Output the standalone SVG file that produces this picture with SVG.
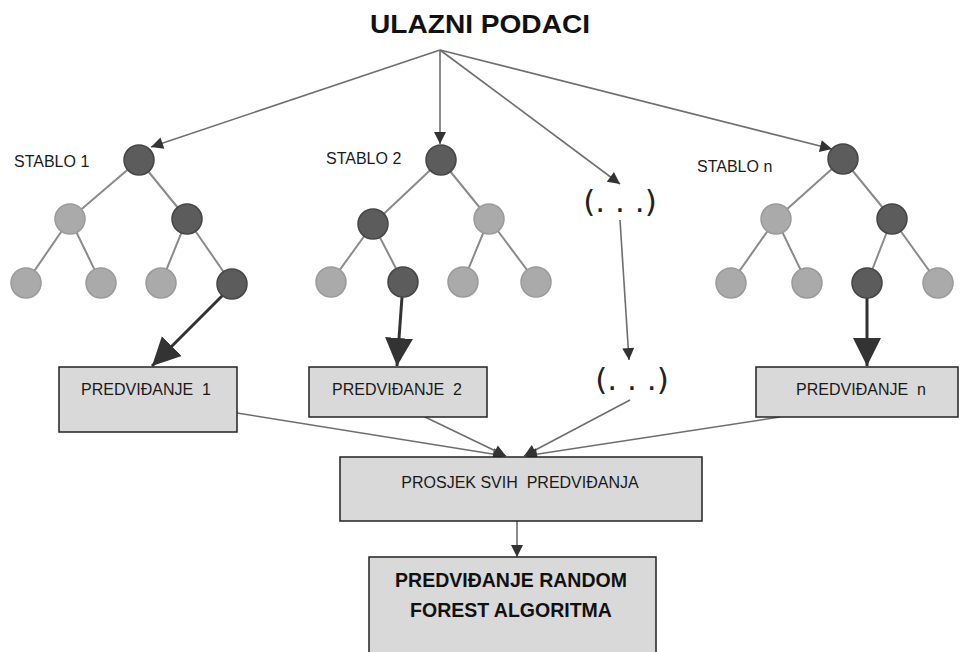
<svg xmlns="http://www.w3.org/2000/svg" width="961" height="652" viewBox="0 0 961 652">
<style>
.dk{fill:#5c5c5c;stroke:#454545;stroke-width:1.5}
.lt{fill:#aaaaaa;stroke:#9a9a9a;stroke-width:1.5}
.te{stroke:#8a8a8a;stroke-width:2;fill:none}
.cn{stroke:#6e6e6e;stroke-width:1.6;fill:none}
.tk{stroke:#333;stroke-width:3;fill:none}
.bx{fill:#d9d9d9;stroke:#222;stroke-width:1.5}
.t{font-family:"Liberation Sans",Arial,sans-serif;font-size:16px;fill:#1a1a1a}
.b{font-family:"Liberation Sans",Arial,sans-serif;font-weight:bold;fill:#111}
.d{font-family:"DejaVu Sans","Liberation Sans",sans-serif;font-size:31px;fill:#222}
</style>
<defs>
<marker id="a" viewBox="0 0 10 10" refX="10" refY="5" markerWidth="14" markerHeight="12" markerUnits="userSpaceOnUse" orient="auto"><path d="M0,0L10,5L0,10z" fill="#333"/></marker>
<marker id="big" viewBox="0 0 10 10" refX="10" refY="5" markerWidth="28" markerHeight="30" markerUnits="userSpaceOnUse" orient="auto"><path d="M0,0L10,5L0,10z" fill="#333"/></marker>
</defs>
<text class="b" x="480" y="33" font-size="25" text-anchor="middle" textLength="220" lengthAdjust="spacingAndGlyphs">ULAZNI PODACI</text>
<g id="connectors">
<line class="cn" x1="440" y1="50" x2="151" y2="147" marker-end="url(#a)"/>
<line class="cn" x1="440" y1="50" x2="440" y2="144" marker-end="url(#a)"/>
<line class="cn" x1="440" y1="50" x2="620" y2="184" marker-end="url(#a)"/>
<line class="cn" x1="440" y1="50" x2="832" y2="149" marker-end="url(#a)"/>
<line class="cn" x1="620" y1="220" x2="629" y2="360" marker-end="url(#a)"/>
<line class="tk" x1="226" y1="292" x2="152" y2="366" marker-end="url(#big)"/>
<line class="tk" x1="402" y1="297" x2="397" y2="366" marker-end="url(#big)"/>
<line class="tk" x1="867" y1="298" x2="867" y2="366" marker-end="url(#big)"/>
<line class="cn" x1="237" y1="413" x2="505" y2="456" marker-end="url(#a)"/>
<line class="cn" x1="425" y1="417" x2="506" y2="456" marker-end="url(#a)"/>
<line class="cn" x1="630" y1="400" x2="524" y2="456" marker-end="url(#a)"/>
<line class="cn" x1="780" y1="417" x2="525" y2="456" marker-end="url(#a)"/>
<line class="cn" x1="517" y1="521" x2="517" y2="557" marker-end="url(#a)"/>
</g>
<g id="tree1">
<path class="te" d="M139,160L70,219M139,160L187,219M70,219L26,283M70,219L101,283M187,219L161,283M187,219L232,284"/>
<circle class="dk" cx="139" cy="160" r="15"/>
<circle class="lt" cx="70" cy="219" r="15"/>
<circle class="dk" cx="187" cy="219" r="15"/>
<circle class="lt" cx="26" cy="283" r="15"/>
<circle class="lt" cx="101" cy="283" r="15"/>
<circle class="lt" cx="161" cy="283" r="15"/>
<circle class="dk" cx="232" cy="284" r="15"/>
<text class="t" x="14" y="167">STABLO 1</text>
</g>
<g id="tree2">
<path class="te" d="M441,160L373,224M441,160L489,219M373,224L331,282M373,224L403,282M489,219L463,282M489,219L536,282"/>
<circle class="dk" cx="441" cy="160" r="15"/>
<circle class="dk" cx="373" cy="224" r="15"/>
<circle class="lt" cx="489" cy="219" r="15"/>
<circle class="lt" cx="331" cy="282" r="15"/>
<circle class="dk" cx="403" cy="282" r="15"/>
<circle class="lt" cx="463" cy="282" r="15"/>
<circle class="lt" cx="536" cy="282" r="15"/>
<text class="t" x="326" y="164">STABLO 2</text>
</g>
<g id="treen">
<path class="te" d="M843,159L776,219M843,159L892,219M776,219L731,283M776,219L807,283M892,219L867,283M892,219L938,283"/>
<circle class="dk" cx="843" cy="159" r="15"/>
<circle class="lt" cx="776" cy="219" r="15"/>
<circle class="dk" cx="892" cy="219" r="15"/>
<circle class="lt" cx="731" cy="283" r="15"/>
<circle class="lt" cx="807" cy="283" r="15"/>
<circle class="dk" cx="867" cy="283" r="15"/>
<circle class="lt" cx="938" cy="283" r="15"/>
<text class="t" x="697" y="172">STABLO n</text>
</g>
<g id="dots1"><text class="d" x="620" y="212" text-anchor="middle">(. . .)</text></g>
<g id="dots2"><text class="d" x="632" y="390" text-anchor="middle">(. . .)</text></g>
<g id="pred1"><rect class="bx" x="59" y="367" width="178" height="65"/><text class="t" x="146" y="395" text-anchor="middle" xml:space="preserve">PREDVIĐANJE  1</text></g>
<g id="pred2"><rect class="bx" x="309" y="367" width="178" height="50"/><text class="t" x="397" y="395" text-anchor="middle" xml:space="preserve">PREDVIĐANJE  2</text></g>
<g id="predn"><rect class="bx" x="756" y="367" width="202" height="50"/><text class="t" x="861" y="395" text-anchor="middle" xml:space="preserve">PREDVIĐANJE  n</text></g>
<g id="prosjek"><rect class="bx" x="340" y="457" width="362" height="64"/><text class="t" x="520" y="488" text-anchor="middle" xml:space="preserve">PROSJEK SVIH  PREDVIĐANJA</text></g>
<g id="final"><rect class="bx" x="369" y="557" width="287" height="100"/><text class="b" font-size="19.5" x="511" y="587" text-anchor="middle">PREDVIĐANJE RANDOM</text><text class="b" font-size="19.5" x="511" y="617" text-anchor="middle">FOREST ALGORITMA</text></g>
</svg>
